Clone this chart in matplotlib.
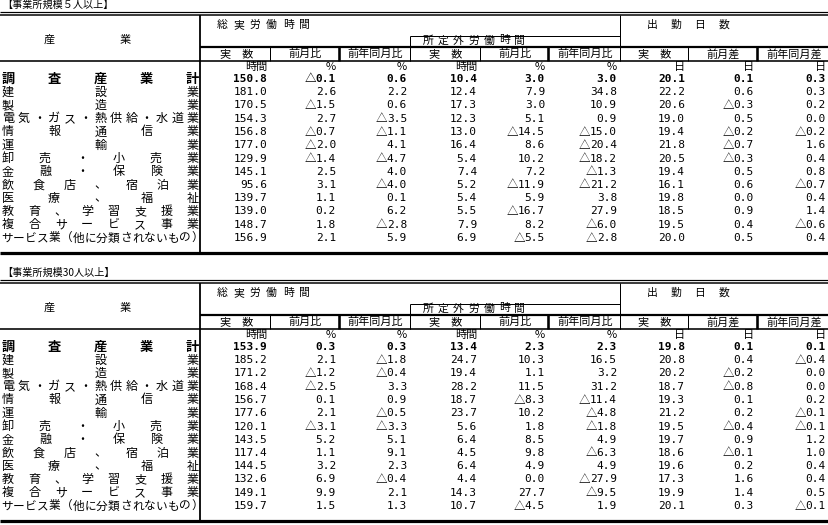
import matplotlib.pyplot as plt

plt.rcParams['font.family'] = ['Noto Sans CJK JP', 'DejaVu Sans']

industries = ['調査産業計', '建設業', '製造業', '電気・ガス・熱供給・水道業', '情報通信業', '運輸業',
              '卸売・小売業', '金融・保険業', '飲食店、宿泊業', '医療、福祉', '教育、学習支援業',
              '複合サービス事業', 'サービス業（他に分類されないもの）']
col_labels = ['実　数', '前月比', '前年同月比', '実　数', '前月比', '前年同月比', '実　数', '前月差', '前年同月差']
units = ['時間', '%', '%', '時間', '%', '%', '日', '日', '日']

# 事業所規模5人以上
total_hours_5 = [150.8, 181.0, 170.5, 154.3, 156.8, 177.0, 129.9, 145.1, 95.6, 139.7, 139.0, 148.7, 156.9]
total_mom_5 = [-0.1, 2.6, -1.5, 2.7, -0.7, -2.0, -1.4, 2.5, 3.1, 1.1, 0.2, 1.8, 2.1]
total_yoy_5 = [0.6, 2.2, 0.6, -3.5, -1.1, 4.1, -4.7, 4.0, -4.0, 0.1, 6.2, -2.8, 5.9]
over_hours_5 = [10.4, 12.4, 17.3, 12.3, 13.0, 16.4, 5.4, 7.4, 5.2, 5.4, 5.5, 7.9, 6.9]
over_mom_5 = [3.0, 7.9, 3.0, 5.1, -14.5, 8.6, 10.2, 7.2, -11.9, 5.9, -16.7, 8.2, -5.5]
over_yoy_5 = [3.0, 34.8, 10.9, 0.9, -15.0, -20.4, -18.2, -1.3, -21.2, 3.8, 27.9, -6.0, -2.8]
days_5 = [20.1, 22.2, 20.6, 19.0, 19.4, 21.8, 20.5, 19.4, 16.1, 19.8, 18.5, 19.5, 20.0]
days_mom_5 = [0.1, 0.6, -0.3, 0.5, -0.2, -0.7, -0.3, 0.5, 0.6, 0.0, 0.9, 0.4, 0.5]
days_yoy_5 = [0.3, 0.3, 0.2, 0.0, -0.2, 1.6, 0.4, 0.8, -0.7, 0.4, 1.4, -0.6, 0.4]

# 事業所規模30人以上
total_hours_30 = [153.9, 185.2, 171.2, 168.4, 156.7, 177.6, 120.1, 143.5, 117.4, 144.5, 132.6, 149.1, 159.7]
total_mom_30 = [0.3, 2.1, -1.2, -2.5, 0.1, 2.1, -3.1, 5.2, 1.1, 3.2, 6.9, 9.9, 1.5]
total_yoy_30 = [0.3, -1.8, -0.4, 3.3, 0.9, -0.5, -3.3, 5.1, 9.1, 2.3, -0.4, 2.1, 1.3]
over_hours_30 = [13.4, 24.7, 19.4, 28.2, 18.7, 23.7, 5.6, 6.4, 4.5, 6.4, 4.4, 14.3, 10.7]
over_mom_30 = [2.3, 10.3, 1.1, 11.5, -8.3, 10.2, 1.8, 8.5, 9.8, 4.9, 0.0, 27.7, -4.5]
over_yoy_30 = [2.3, 16.5, 3.2, 31.2, -11.4, -4.8, -1.8, 4.9, -6.3, 4.9, -27.9, -9.5, 1.9]
days_30 = [19.8, 20.8, 20.2, 18.7, 19.3, 21.2, 19.5, 19.7, 18.6, 19.6, 17.3, 19.9, 20.1]
days_mom_30 = [0.1, 0.4, -0.2, -0.8, 0.1, 0.2, -0.4, 0.9, -0.1, 0.2, 1.6, 1.4, 0.3]
days_yoy_30 = [0.1, -0.4, 0.0, 0.0, 0.2, -0.1, -0.1, 1.2, 1.0, 0.4, 0.4, 0.5, -0.1]

W, H = 829, 525
col_edges = [201, 270, 339, 410, 480, 548, 620, 688, 757, 829]
thick_edges = [339, 548, 757]
row_step = 13.25
MONO = 'DejaVu Sans Mono'
NUM_SIZE = 8
CHAR_W = NUM_SIZE / 72 * 100 * 0.602

fig = plt.figure(figsize=(W / 100, H / 100), dpi=100)
ax = fig.add_axes([0, 0, 1, 1])
ax.set_xlim(0, W)
ax.set_ylim(H, 0)
ax.axis('off')


def hline(y, x0, x1, px=1.0):
    ax.plot([x0, x1], [y, y], color='black', lw=px * 0.72, solid_capstyle='butt')


def vline(x, y0, y1, px=1.0):
    ax.plot([x, x], [y0, y1], color='black', lw=px * 0.72, solid_capstyle='butt')


def spread(text, y, left, right, cw, **kw):
    # distribute characters evenly between left and right
    n = len(text)
    for i, ch in enumerate(text):
        x = left + cw / 2 + (right - left - cw) * i / (n - 1)
        ax.text(x, y, ch, ha='center', va='center', **kw)


def number(v, x, y, bold=False):
    s = f'{abs(v):.1f}'
    w = 'bold' if bold else 'normal'
    ax.text(x, y, s, ha='right', va='center', family=MONO, fontsize=NUM_SIZE, fontweight=w)
    if v < 0:
        ax.text(x - len(s) * CHAR_W, y, '△', ha='right', va='center', fontsize=8.3, fontweight=w)


def draw_table(y0, title, columns):
    ax.text(2, y0 + 5, title, ha='left', va='center', fontsize=7.3)
    hline(y0 + 12, 0, W, 1.2)
    hline(y0 + 14.8, 0, W, 1.5)
    bottom = y0 + 252.5
    vline(200.5, y0 + 14.8, bottom, 1.8)

    # group headers
    spread('総実労働時間', y0 + 25, 216.7, 310, 10.5, fontsize=7.8)
    spread('所定外労働時間', y0 + 40.5, 422.7, 525, 10.5, fontsize=7.8)
    spread('出勤日数', y0 + 25, 647, 729, 10.5, fontsize=7.8)
    ax.text(49, y0 + 40, '産', ha='center', va='center', fontsize=8)
    ax.text(125, y0 + 40, '業', ha='center', va='center', fontsize=8)
    hline(y0 + 35.5, 410, 620, 1.0)
    vline(410, y0 + 35.5, y0 + 60.5, 1.0)
    vline(620, y0 + 14.8, y0 + 60.5, 1.0)
    hline(y0 + 46.8, 200, W, 2.2)
    hline(y0 + 60.8, 0, W, 1.6)

    for i, lab in enumerate(col_labels):
        xl, xr = col_edges[i], col_edges[i + 1]
        ax.text((xl + xr) / 2 + 1, y0 + 53.8, lab, ha='center', va='center', fontsize=8)
        if i > 0:
            vline(xl, y0 + 46.8, y0 + 60.8, 2.6 if xl in thick_edges else 1.0)
        ax.text(xr - 3, y0 + 67.2, units[i], ha='right', va='center', fontsize=8)

    for r, name in enumerate(industries):
        y = y0 + 79 + r * row_step
        if r == 0:
            spread(name, y, 2, 199, 13, fontsize=9.5, fontweight='bold')
        elif len(name) > 13:
            spread(name, y, 1, 203, 11.8, fontsize=8.4)
        else:
            spread(name, y, 2, 199, 12, fontsize=8.7)
        for c, vals in enumerate(columns):
            number(vals[r], col_edges[c + 1] - 3, y, bold=(r == 0))

    hline(bottom, 0, W, 3.2)


draw_table(0, '【事業所規模５人以上】',
           [total_hours_5, total_mom_5, total_yoy_5, over_hours_5, over_mom_5, over_yoy_5,
            days_5, days_mom_5, days_yoy_5])
draw_table(268, '【事業所規模30人以上】',
           [total_hours_30, total_mom_30, total_yoy_30, over_hours_30, over_mom_30, over_yoy_30,
            days_30, days_mom_30, days_yoy_30])

fig.savefig('out.png', dpi=100)
